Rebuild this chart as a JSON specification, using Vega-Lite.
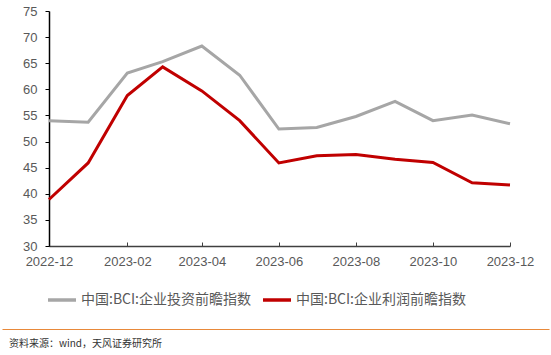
{
  "$schema": "https://vega.github.io/schema/vega-lite/v6.json",
  "background": "white",
  "padding": {"left": 2, "top": 5, "right": 2, "bottom": 2},
  "columns": 1,
  "spacing": 61,
  "concat": [
    {
      "width": 461,
      "height": 235,
      "view": {"stroke": null},
      "data": {
        "values": [
          {"date": "2022-12-01", "series": "中国:BCI:企业投资前瞻指数", "value": 54.0},
          {"date": "2023-01-01", "series": "中国:BCI:企业投资前瞻指数", "value": 53.7},
          {"date": "2023-02-01", "series": "中国:BCI:企业投资前瞻指数", "value": 63.1},
          {"date": "2023-03-01", "series": "中国:BCI:企业投资前瞻指数", "value": 65.3},
          {"date": "2023-04-01", "series": "中国:BCI:企业投资前瞻指数", "value": 68.3},
          {"date": "2023-05-01", "series": "中国:BCI:企业投资前瞻指数", "value": 62.7},
          {"date": "2023-06-01", "series": "中国:BCI:企业投资前瞻指数", "value": 52.4},
          {"date": "2023-07-01", "series": "中国:BCI:企业投资前瞻指数", "value": 52.7},
          {"date": "2023-08-01", "series": "中国:BCI:企业投资前瞻指数", "value": 54.8},
          {"date": "2023-09-01", "series": "中国:BCI:企业投资前瞻指数", "value": 57.7},
          {"date": "2023-10-01", "series": "中国:BCI:企业投资前瞻指数", "value": 54.0},
          {"date": "2023-11-01", "series": "中国:BCI:企业投资前瞻指数", "value": 55.1},
          {"date": "2023-12-01", "series": "中国:BCI:企业投资前瞻指数", "value": 53.4},
          {"date": "2022-12-01", "series": "中国:BCI:企业利润前瞻指数", "value": 38.9},
          {"date": "2023-01-01", "series": "中国:BCI:企业利润前瞻指数", "value": 45.9},
          {"date": "2023-02-01", "series": "中国:BCI:企业利润前瞻指数", "value": 58.8},
          {"date": "2023-03-01", "series": "中国:BCI:企业利润前瞻指数", "value": 64.3},
          {"date": "2023-04-01", "series": "中国:BCI:企业利润前瞻指数", "value": 59.7},
          {"date": "2023-05-01", "series": "中国:BCI:企业利润前瞻指数", "value": 54.0},
          {"date": "2023-06-01", "series": "中国:BCI:企业利润前瞻指数", "value": 45.9},
          {"date": "2023-07-01", "series": "中国:BCI:企业利润前瞻指数", "value": 47.3},
          {"date": "2023-08-01", "series": "中国:BCI:企业利润前瞻指数", "value": 47.5},
          {"date": "2023-09-01", "series": "中国:BCI:企业利润前瞻指数", "value": 46.6},
          {"date": "2023-10-01", "series": "中国:BCI:企业利润前瞻指数", "value": 46.0},
          {"date": "2023-11-01", "series": "中国:BCI:企业利润前瞻指数", "value": 42.1},
          {"date": "2023-12-01", "series": "中国:BCI:企业利润前瞻指数", "value": 41.7}
        ]
      },
      "mark": {"type": "line", "strokeWidth": 3, "strokeJoin": "miter", "clip": false},
      "encoding": {
        "x": {
          "field": "date",
          "type": "temporal",
          "scale": {"type": "utc", "nice": false, "padding": 0},
          "axis": {
            "title": null,
            "grid": false,
            "format": "%Y-%m",
            "values": [
              {"year": 2022, "month": 12, "date": 1, "utc": true},
              {"year": 2023, "month": 2, "date": 1, "utc": true},
              {"year": 2023, "month": 4, "date": 1, "utc": true},
              {"year": 2023, "month": 6, "date": 1, "utc": true},
              {"year": 2023, "month": 8, "date": 1, "utc": true},
              {"year": 2023, "month": 10, "date": 1, "utc": true},
              {"year": 2023, "month": 12, "date": 1, "utc": true}
            ],
            "domainColor": "#404040",
            "domainWidth": 1.5,
            "tickColor": "#404040",
            "tickSize": -4,
            "tickWidth": 1,
            "labelFont": "Liberation Sans",
            "labelFontSize": 13,
            "labelColor": "#595959",
            "labelPadding": 13,
            "labelFlush": false,
            "labelOverlap": false
          }
        },
        "y": {
          "field": "value",
          "type": "quantitative",
          "scale": {"domain": [30, 75], "nice": false, "zero": false},
          "axis": {
            "title": null,
            "grid": false,
            "values": [30, 35, 40, 45, 50, 55, 60, 65, 70, 75],
            "domainColor": "#000000",
            "domainWidth": 1.5,
            "tickColor": "#000000",
            "tickSize": 4,
            "labelFont": "Liberation Sans",
            "labelFontSize": 13,
            "labelColor": "#595959",
            "labelPadding": 8,
            "minExtent": 47
          }
        },
        "color": {
          "field": "series",
          "type": "nominal",
          "scale": {
            "domain": ["中国:BCI:企业投资前瞻指数", "中国:BCI:企业利润前瞻指数"],
            "range": ["#A6A6A6", "#C00000"]
          },
          "legend": {
            "title": null,
            "orient": "none",
            "direction": "horizontal",
            "legendX": -3,
            "legendY": 273,
            "symbolType": "stroke",
            "symbolSize": 784,
            "symbolStrokeWidth": 3.5,
            "labelFont": "Noto Sans CJK SC",
            "labelFontSize": 14,
            "labelColor": "#595959",
            "labelOffset": 3,
            "columnPadding": 4,
            "labelLimit": 400
          }
        }
      }
    },
    {
      "width": 461,
      "height": 1,
      "view": {"stroke": null},
      "data": {"values": []},
      "mark": "rule",
      "encoding": {
        "x": {
          "field": "v",
          "type": "quantitative",
          "scale": {"domain": [0, 1], "range": [-47, 500]},
          "axis": {
            "orient": "top",
            "title": null,
            "grid": false,
            "ticks": false,
            "labels": false,
            "domainColor": "#E8893A",
            "domainWidth": 1.2
          }
        }
      },
      "title": {
        "text": "资料来源：wind，天风证券研究所",
        "orient": "bottom",
        "anchor": "start",
        "dx": -40,
        "offset": 9,
        "font": "Noto Sans CJK SC",
        "fontSize": 10,
        "fontWeight": "normal",
        "color": "#333333"
      }
    }
  ]
}
